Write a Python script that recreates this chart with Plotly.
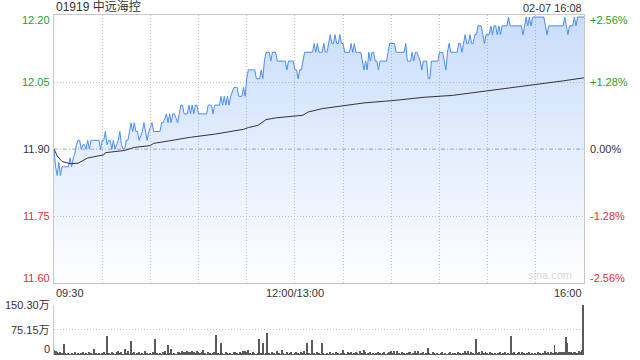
import plotly.graph_objects as go

# ---------------- data ----------------
title_text = "01919 中远海控"
stamp_text = "02-07 16:08"
prev_close = 11.90

# minutes since 09:30 on a continuous trading clock (09:30-12:00, 13:00-16:00)
minutes = list(range(331))
price = [
    11.90, 11.86, 11.84, 11.87, 11.84, 11.86, 11.86, 11.86, 11.86, 11.86,
    11.88, 11.86, 11.88, 11.89, 11.91, 11.92, 11.92, 11.90, 11.91, 11.91,
    11.90, 11.92, 11.90, 11.92, 11.92, 11.92, 11.92, 11.92, 11.92, 11.90,
    11.92, 11.92, 11.94, 11.91, 11.92, 11.92, 11.90, 11.92, 11.90, 11.91,
    11.92, 11.94, 11.91, 11.90, 11.90, 11.92, 11.92, 11.94, 11.96, 11.94,
    11.96, 11.94, 11.94, 11.92, 11.93, 11.94, 11.96, 11.94, 11.92, 11.94,
    11.95, 11.96, 11.94, 11.94, 11.94, 11.94, 11.94, 11.96, 11.96, 11.97,
    11.98, 11.96, 11.98, 11.96, 11.98, 11.98, 11.97, 11.96, 11.98, 12.00,
    12.00, 11.98, 11.98, 11.98, 12.00, 11.98, 12.00, 11.98, 12.00, 12.00,
    11.98, 11.98, 11.98, 11.98, 11.98, 11.98, 12.00, 12.00, 12.00, 11.98,
    12.00, 12.00, 12.00, 12.00, 12.02, 12.00, 12.02, 12.00, 12.02, 12.00,
    12.02, 12.03, 12.04, 12.04, 12.04, 12.02, 12.02, 12.02, 12.04, 12.02,
    12.06, 12.08, 12.08, 12.08, 12.08, 12.08, 12.06, 12.06, 12.06, 12.08,
    12.06, 12.10, 12.12, 12.12, 12.12, 12.10, 12.12, 12.12, 12.12, 12.10,
    12.10, 12.10, 12.10, 12.10, 12.10, 12.08, 12.10, 12.10, 12.10, 12.10,
    12.08, 12.08, 12.06, 12.08, 12.08, 12.10, 12.12, 12.12, 12.12, 12.12,
    12.12, 12.12, 12.14, 12.12, 12.14, 12.12, 12.12, 12.12, 12.14, 12.12,
    12.12, 12.14, 12.16, 12.14, 12.14, 12.16, 12.14, 12.14, 12.16, 12.14,
    12.14, 12.12, 12.12, 12.12, 12.12, 12.14, 12.12, 12.14, 12.12, 12.12,
    12.12, 12.12, 12.10, 12.08, 12.10, 12.08, 12.12, 12.10, 12.12, 12.12,
    12.10, 12.10, 12.08, 12.10, 12.10, 12.10, 12.10, 12.10, 12.12, 12.14,
    12.14, 12.14, 12.14, 12.12, 12.12, 12.12, 12.12, 12.12, 12.12, 12.14,
    12.10, 12.10, 12.10, 12.12, 12.10, 12.12, 12.12, 12.11, 12.10, 12.08,
    12.10, 12.10, 12.10, 12.06, 12.06, 12.10, 12.10, 12.10, 12.10, 12.10,
    12.12, 12.12, 12.12, 12.10, 12.08, 12.12, 12.14, 12.12, 12.12, 12.12,
    12.12, 12.12, 12.14, 12.14, 12.12, 12.14, 12.16, 12.14, 12.14, 12.16,
    12.14, 12.14, 12.16, 12.16, 12.18, 12.18, 12.18, 12.16, 12.14, 12.16,
    12.16, 12.16, 12.18, 12.16, 12.18, 12.18, 12.16, 12.18, 12.16, 12.18,
    12.18, 12.18, 12.18, 12.20, 12.18, 12.18, 12.18, 12.18, 12.18, 12.18,
    12.18, 12.18, 12.16, 12.18, 12.20, 12.18, 12.20, 12.18, 12.20, 12.20,
    12.20, 12.20, 12.20, 12.20, 12.20, 12.20, 12.18, 12.16, 12.18, 12.18,
    12.18, 12.18, 12.18, 12.18, 12.18, 12.18, 12.18, 12.18, 12.20, 12.18,
    12.16, 12.18, 12.18, 12.18, 12.20, 12.18, 12.20, 12.20, 12.20, 12.20,
    12.20,
]

avg_minutes = [0, 2, 5, 10, 15, 21, 31, 32, 44, 50, 60, 62, 72, 85, 100, 118,
               121, 127, 132, 138, 155, 158, 167, 193, 210, 231, 248, 267,
               284, 300, 317, 330]
avg_price = [11.900, 11.885, 11.872, 11.867, 11.868, 11.880, 11.887, 11.892,
             11.897, 11.904, 11.908, 11.913, 11.919, 11.927, 11.934, 11.945,
             11.949, 11.954, 11.967, 11.971, 11.977, 11.984, 11.992, 12.005,
             12.010, 12.018, 12.022, 12.031, 12.039, 12.046, 12.055, 12.062]

volume = [  # 万股 per minute
    15, 13, 9, 7, 11, 7, 33, 7, 5, 7,
    5, 7, 5, 9, 5, 7, 5, 7, 11, 5,
    7, 5, 9, 7, 5, 20, 7, 5, 7, 5,
    7, 9, 5, 57, 7, 5, 11, 7, 5, 9,
    14, 7, 11, 5, 18, 7, 14, 5, 42, 7,
    11, 5, 7, 11, 5, 7, 5, 14, 7, 5,
    7, 5, 9, 48, 7, 5, 7, 5, 9, 14,
    5, 31, 7, 18, 5, 7, 5, 9, 11, 7,
    12, 11, 9, 14, 11, 9, 12, 11, 7, 14,
    9, 7, 11, 16, 7, 5, 9, 7, 5, 7,
    9, 60, 7, 5, 37, 7, 5, 9, 7, 5,
    7, 5, 9, 11, 7, 5, 11, 7, 12, 14,
    11, 16, 7, 5, 9, 7, 5, 7, 48, 7,
    37, 5, 7, 67, 7, 5, 9, 7, 5, 12,
    7, 5, 16, 7, 5, 9, 5, 7, 11, 5,
    7, 9, 7, 5, 11, 7, 14, 5, 37, 7,
    5, 45, 7, 5, 9, 7, 5, 38, 7, 5,
    7, 5, 9, 5, 7, 5, 9, 7, 5, 7,
    16, 7, 5, 9, 7, 11, 5, 7, 9, 7,
    5, 14, 7, 16, 11, 5, 7, 9, 5, 7,
    5, 7, 9, 7, 5, 7, 11, 5, 7, 9,
    12, 7, 14, 5, 14, 7, 5, 9, 7, 5,
    7, 9, 11, 5, 7, 12, 7, 12, 5, 7,
    9, 5, 7, 23, 7, 5, 9, 7, 5, 7,
    5, 7, 9, 5, 7, 5, 7, 9, 5, 7,
    7, 5, 9, 7, 5, 7, 14, 7, 14, 5,
    11, 7, 5, 48, 7, 9, 5, 12, 7, 11,
    7, 5, 9, 7, 5, 7, 5, 7, 9, 5,
    7, 9, 5, 7, 5, 57, 7, 9, 5, 7,
    9, 5, 11, 7, 5, 7, 9, 5, 7, 5,
    7, 5, 9, 7, 5, 7, 14, 7, 9, 5,
    11, 7, 30, 9, 7, 11, 9, 11, 9, 55,
    37, 11, 9, 7, 11, 9, 7, 12, 11, 16,
    150.30,
]

pct_levels = [-2.56, -1.28, 0.0, 1.28, 2.56]
left_labels = ["11.60", "11.75", "11.90", "12.05", "12.20"]
right_labels = ["-2.56%", "-1.28%", "0.00%", "+1.28%", "+2.56%"]
vol_levels = [0, 75.15, 150.30]
vol_labels = ["0", "75.15万", "150.30万"]
x_label_pos = [0, 150, 330]
x_labels = ["09:30", "12:00/13:00", "16:00"]

# ---------------- styling ----------------
FONT = "Liberation Sans, Arial, Noto Sans CJK SC, sans-serif"
GREEN = "#1f9f1f"
RED = "#ee2b2b"
DARK = "#333333"
GRID = "#c4c4c4"
FRAME = "#c8c8c8"
DOT = "1px,2px"

lo = prev_close * (1 - 0.0256)
hi = prev_close * (1 + 0.0256)
levels = [prev_close * (1 + p / 100) for p in pct_levels]

main_dom = [0.2109, 1.0]
vol_dom = [0.0, 0.1485]

fig = go.Figure()
fig.add_trace(go.Scatter(
    x=minutes, y=price, mode="lines",
    line=dict(color="#4a8cf0", width=1),
    fill="tozeroy",
    fillgradient=dict(type="vertical",
                      colorscale=[[0, "rgba(74,140,240,0.01)"],
                                  [1, "rgba(74,140,240,0.30)"]],
                      start=lo, stop=hi),
    xaxis="x", yaxis="y", hoverinfo="skip", showlegend=False))
fig.add_trace(go.Scatter(
    x=avg_minutes, y=avg_price, mode="lines",
    line=dict(color="#333333", width=1),
    xaxis="x", yaxis="y", hoverinfo="skip", showlegend=False))
fig.add_trace(go.Bar(
    x=minutes, y=volume, width=0.6,
    marker=dict(color="#5a5a5a", line=dict(width=0)),
    xaxis="x2", yaxis="y2", hoverinfo="skip", showlegend=False))

annotations = []
for lvl, lt, rt, p in zip(levels, left_labels, right_labels, pct_levels):
    col = GREEN if p > 0 else (RED if p < 0 else DARK)
    shift = -5 if lvl == levels[-1] else (5 if lvl == levels[0] else 0)
    annotations.append(dict(xref="paper", yref="y", x=0, y=lvl, xanchor="right",
                            yanchor="middle", xshift=-2, yshift=shift, text=lt,
                            showarrow=False, font=dict(size=11, color=col)))
    annotations.append(dict(xref="paper", yref="y", x=1, y=lvl, xanchor="left",
                            yanchor="middle", xshift=4, yshift=shift, text=rt,
                            showarrow=False, font=dict(size=11, color=col)))
for v, t in zip(vol_levels, vol_labels):
    shift = 6 if v == 0 else 0
    annotations.append(dict(xref="paper", yref="y2", x=0, y=v, xanchor="right",
                            yanchor="middle", xshift=-2, yshift=shift, text=t,
                            showarrow=False, font=dict(size=11, color=DARK)))
anchors = ["left", "center", "right"]
for xp, t, a in zip(x_label_pos, x_labels, anchors):
    annotations.append(dict(xref="x", yref="paper", x=xp, y=main_dom[0],
                            xanchor=a, yanchor="top", yshift=-2, text=t,
                            showarrow=False, font=dict(size=11, color=DARK)))
annotations.append(dict(xref="paper", yref="paper", x=0, y=1, xanchor="left",
                        yanchor="bottom", yshift=-1, text=title_text,
                        showarrow=False, font=dict(size=12, color=DARK)))
annotations.append(dict(xref="paper", yref="paper", x=1, y=1, xanchor="right",
                        yanchor="bottom", yshift=-1, text=stamp_text,
                        showarrow=False, font=dict(size=11, color=DARK)))
annotations.append(dict(xref="paper", yref="y", x=1, y=lo, xanchor="right",
                        yanchor="bottom", xshift=-10, text="sina.com",
                        showarrow=False, font=dict(size=11, color="#d9d9d9")))

fig.update_layout(
    width=640, height=360,
    margin=dict(l=54, r=56, t=15, b=5),
    paper_bgcolor="white", plot_bgcolor="white",
    font=dict(family=FONT, size=11, color=DARK),
    bargap=0,
    xaxis=dict(domain=[0, 1], range=[0, 330], anchor="y",
               tickmode="linear", tick0=0, dtick=30,
               showticklabels=False, ticks="",
               showgrid=True, gridcolor=GRID, griddash=DOT, gridwidth=1,
               showline=True, linecolor=FRAME, linewidth=1, mirror=True,
               zeroline=False, fixedrange=True),
    yaxis=dict(domain=main_dom, range=[lo, hi], anchor="x",
               tickvals=[levels[1], levels[3]],
               showticklabels=False, ticks="",
               showgrid=True, gridcolor=GRID, griddash=DOT, gridwidth=1,
               showline=True, linecolor=FRAME, linewidth=1, mirror=True,
               zeroline=False, fixedrange=True),
    xaxis2=dict(domain=[0, 1], range=[0, 330.4], anchor="y2",
                showticklabels=False, ticks="", showgrid=False,
                showline=False, zeroline=False, fixedrange=True),
    yaxis2=dict(domain=vol_dom, range=[0, 150.30], anchor="x2",
                tickvals=[75.15, 150.30],
                showticklabels=False, ticks="",
                showgrid=True, gridcolor=GRID, griddash=DOT, gridwidth=1,
                showline=True, linecolor=FRAME, linewidth=1,
                zeroline=False, fixedrange=True),
    shapes=[dict(type="line", xref="x", yref="y", x0=0, x1=330,
                 y0=prev_close, y1=prev_close, layer="below",
                 line=dict(color="#aaaaaa", width=1, dash="4px,2px,1px,2px"))],
    annotations=annotations,
)

fig.write_html("out.html")
